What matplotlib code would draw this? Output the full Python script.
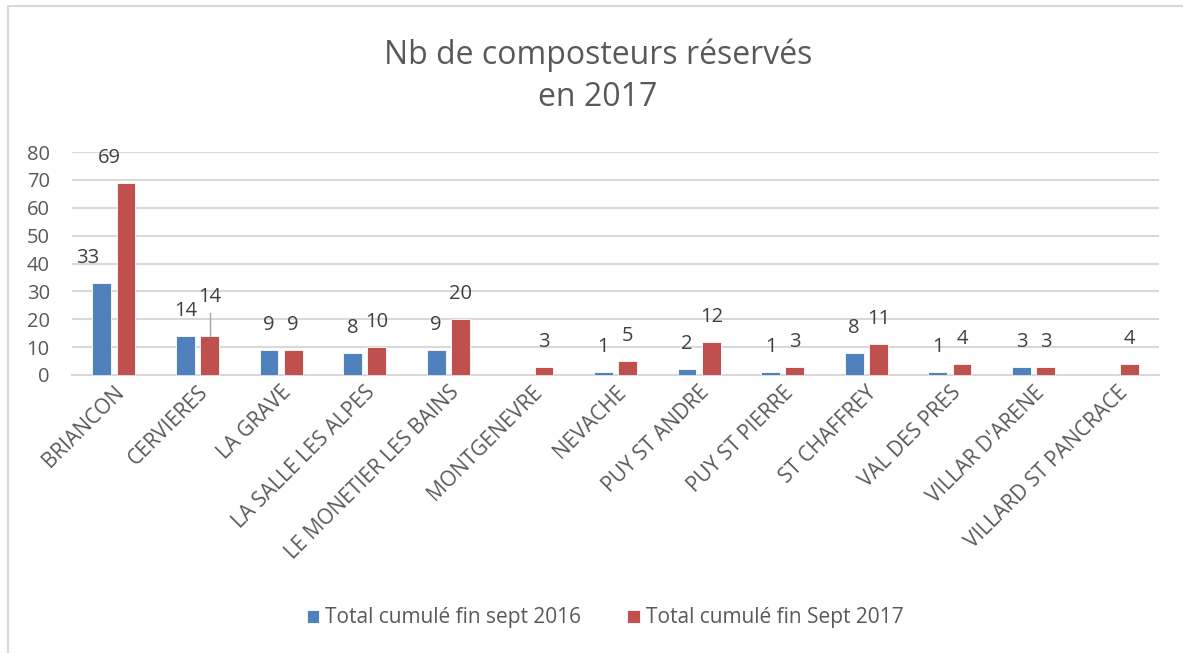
import matplotlib
matplotlib.use("Agg")
import matplotlib.pyplot as plt
import numpy as np
from matplotlib.patches import Rectangle

categories = ["BRIANCON", "CERVIERES", "LA GRAVE", "LA SALLE LES ALPES",
              "LE MONETIER LES BAINS", "MONTGENEVRE", "NEVACHE", "PUY ST ANDRE",
              "PUY ST PIERRE", "ST CHAFFREY", "VAL DES PRES", "VILLAR D'ARENE",
              "VILLARD ST PANCRACE"]
s2016 = [33, 14, 9, 8, 9, None, 1, 2, 1, 8, 1, 3, None]
s2017 = [69, 14, 9, 10, 20, 3, 5, 12, 3, 11, 4, 3, 4]
series_names = ["Total cumulé fin sept 2016", "Total cumulé fin Sept 2017"]
yticks = [0, 10, 20, 30, 40, 50, 60, 70, 80]

colors = ["#4F81BD", "#C0504D"]
txt = "#595959"
plt.rcParams['font.family'] = ["Open Sans", 'DejaVu Sans']

fig = plt.figure(figsize=(11.83, 6.53), dpi=100)
ax = fig.add_axes([72/1183, 1-375/653, (1159-72)/1183, (375-152)/653])

x = np.arange(len(categories))
bw = 0.225
off = 0.145
for i, (vals, c) in enumerate(zip([s2016, s2017], colors)):
    xs = x + (-off if i == 0 else off)
    hv = [v if v is not None else 0 for v in vals]
    ax.bar(xs, hv, width=bw, color=c, edgecolor="white", linewidth=0.6,
           label=series_names[i], zorder=3)

# manual label adjustments (points): (series, index) -> (dx, dy)
label_adjust = {(0, 0): (-10, 0), (1, 0): (-12, 0), (1, 1): (0, 10)}
for i, vals in enumerate([s2016, s2017]):
    for j, v in enumerate(vals):
        if v is None:
            continue
        xs = x[j] + (-off if i == 0 else off)
        dx, dy = label_adjust.get((i, j), (0, 0))
        ax.annotate(str(v), (xs, v), xytext=(dx, 18 + dy), textcoords="offset points",
                    ha="center", va="center", fontsize=14.5, color="#404040", zorder=5)

# leader line for CERVIERES 2017 label
j = 1
xs = x[j] + off
ax.plot([xs, xs], [s2017[j], s2017[j] + 8.2], color="#A6A6A6", linewidth=1, zorder=4)

ax.set_xlim(-0.5, len(categories) - 0.5)
ax.set_ylim(0, 80)
ax.set_yticks(yticks)
ax.set_yticklabels([str(t) for t in yticks], fontsize=14.5, color=txt)
ax.grid(axis="y", color="#D9D9D9", linewidth=1.5, zorder=0)
ax.tick_params(axis="y", length=0, pad=16)
ax.tick_params(axis="x", length=0, pad=5)
for s in ["top", "right", "left"]:
    ax.spines[s].set_visible(False)
ax.spines["bottom"].set_color("#D9D9D9")
ax.spines["bottom"].set_linewidth(1.5)
ax.set_xticks(x)
ax.set_xticklabels(categories, rotation=45, ha="right", rotation_mode="anchor",
                   fontsize=15, color=txt)

fig.text(598/1183, 1-55/653, "Nb de composteurs réservés", ha="center", va="center",
         fontsize=23, color=txt)
fig.text(598/1183, 1-98/653, "en 2017", ha="center", va="center",
         fontsize=23, color=txt)

leg = fig.legend(loc="center", bbox_to_anchor=(605/1183, 1-618/653), ncol=2,
                 frameon=False, fontsize=15, handlelength=0.6, handleheight=0.6,
                 handletextpad=0.3, columnspacing=2.2, labelcolor=txt)

fig.patches.append(Rectangle((8/1183, -0.1), 1.2, 1-6/653 + 0.1, transform=fig.transFigure,
                             fill=False, edgecolor="#D9D9D9", linewidth=1.5))

fig.savefig("out.png", dpi=100)
